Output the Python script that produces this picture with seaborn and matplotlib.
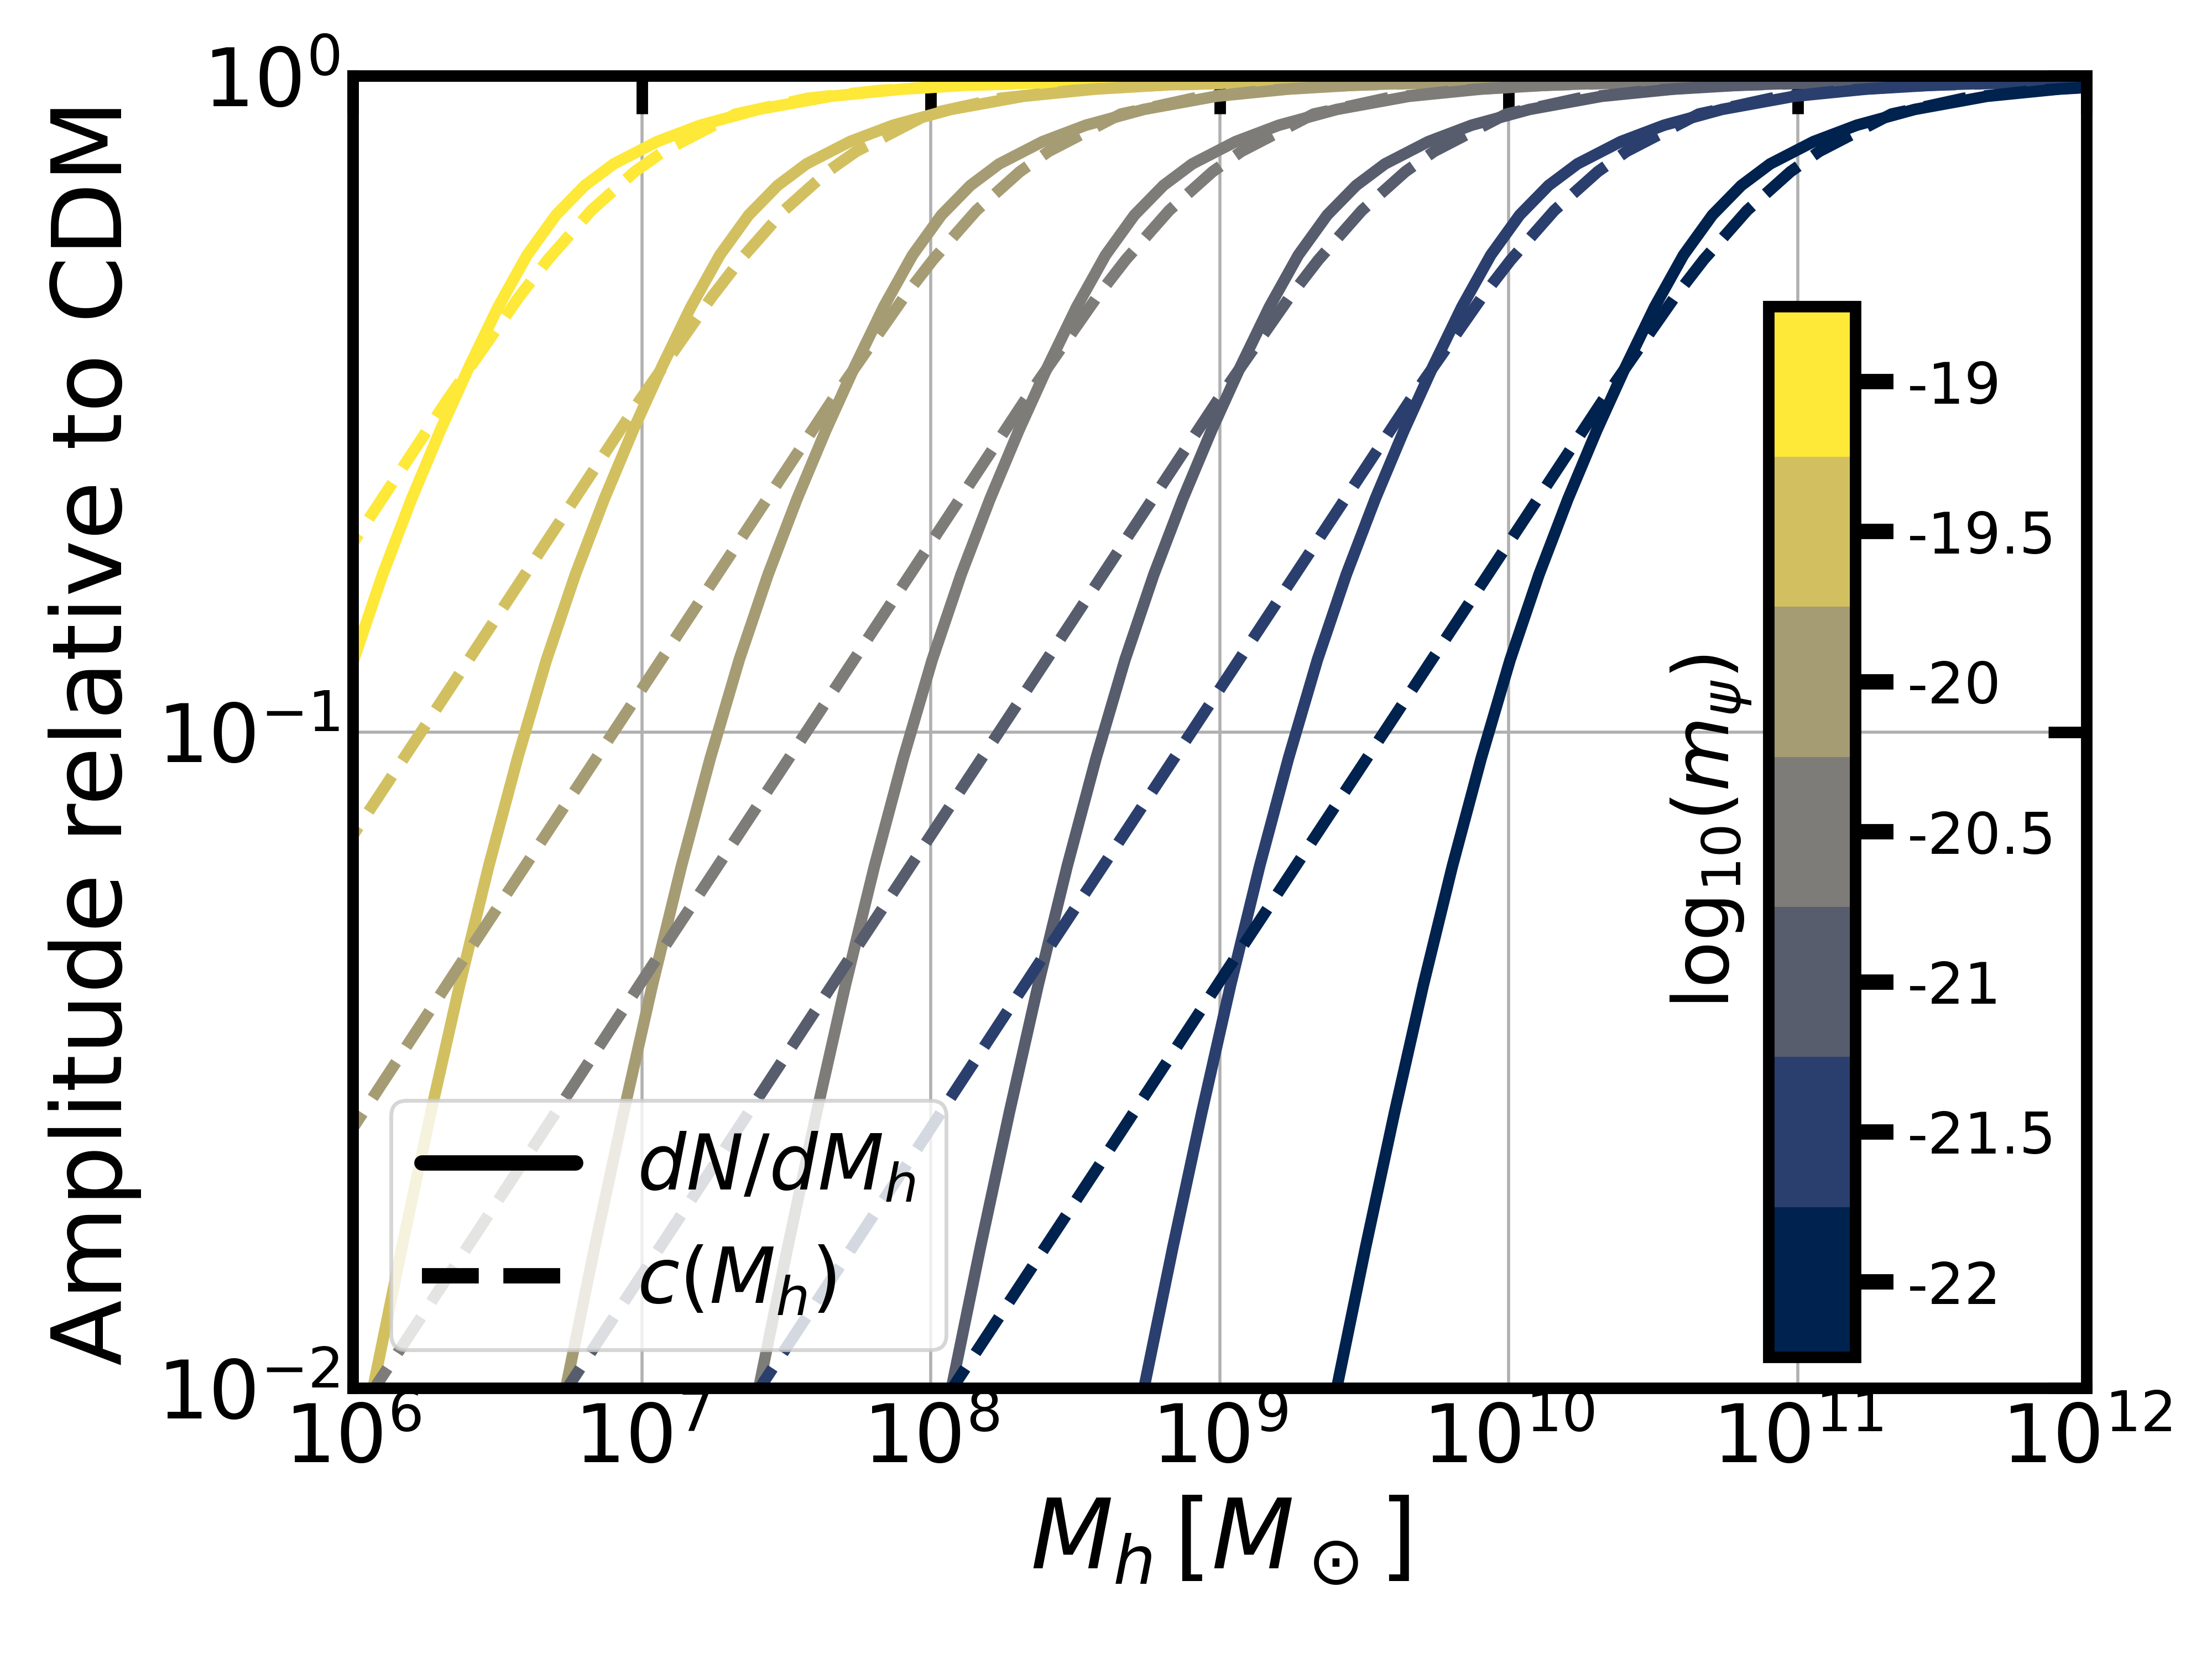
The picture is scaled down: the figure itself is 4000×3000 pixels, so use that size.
import numpy as np
import matplotlib
matplotlib.use("Agg")
import matplotlib.pyplot as plt
from matplotlib.colors import ListedColormap, BoundaryNorm
from matplotlib.cm import ScalarMappable
from matplotlib.lines import Line2D
from matplotlib.ticker import LogLocator, NullLocator
import seaborn as sns

# ---------------- data ----------------
# log10(m_psi) values of the seven models (colour-coded)
log_m_psi = [-19, -19.5, -20, -20.5, -21, -21.5, -22]

# dN/dM_h suppression (solid): amplitude levels and, per model, the
# log10(M_h) at which each curve passes that level
amp_solid = [0.0060, 0.0100, 0.0164, 0.0263, 0.0412, 0.0624, 0.0912, 0.1288,
             0.1738, 0.2265, 0.2884, 0.3606, 0.4446, 0.5333, 0.6138, 0.6808,
             0.7345, 0.7943, 0.8414, 0.8892, 0.9311, 0.9550, 0.9694, 0.9772,
             0.9886, 0.9943, 0.9982, 0.9995]

logM_solid_m19_0 = [5.303, 5.403, 5.503, 5.603, 5.703, 5.803, 5.903, 6.003, 6.103, 6.203,
                    6.303, 6.403, 6.503, 6.603, 6.703, 6.803, 6.903, 7.053, 7.203, 7.403,
                    7.653, 7.903, 8.153, 8.403, 8.903, 9.403, 10.403, 12.003]
logM_solid_m19_5 = [5.970, 6.070, 6.170, 6.270, 6.370, 6.470, 6.570, 6.670, 6.770, 6.870,
                    6.970, 7.070, 7.170, 7.270, 7.370, 7.470, 7.570, 7.720, 7.870, 8.070,
                    8.320, 8.570, 8.820, 9.070, 9.570, 10.070, 11.070, 12.670]
logM_solid_m20_0 = [6.637, 6.737, 6.837, 6.937, 7.037, 7.137, 7.237, 7.337, 7.437, 7.537,
                    7.637, 7.737, 7.837, 7.937, 8.037, 8.137, 8.237, 8.387, 8.537, 8.737,
                    8.987, 9.237, 9.487, 9.737, 10.237, 10.737, 11.737, 13.337]
logM_solid_m20_5 = [7.305, 7.405, 7.505, 7.605, 7.705, 7.805, 7.905, 8.005, 8.105, 8.205,
                    8.305, 8.405, 8.505, 8.605, 8.705, 8.805, 8.905, 9.055, 9.205, 9.405,
                    9.655, 9.905, 10.155, 10.405, 10.905, 11.405, 12.405]
logM_solid_m21_0 = [7.972, 8.072, 8.172, 8.272, 8.372, 8.472, 8.572, 8.672, 8.772, 8.872,
                    8.972, 9.072, 9.172, 9.272, 9.372, 9.472, 9.572, 9.722, 9.872, 10.072,
                    10.322, 10.572, 10.822, 11.072, 11.572, 12.072]
logM_solid_m21_5 = [8.638, 8.738, 8.838, 8.938, 9.038, 9.138, 9.238, 9.338, 9.438, 9.538,
                    9.638, 9.738, 9.838, 9.938, 10.038, 10.138, 10.238, 10.388, 10.538, 10.738,
                    10.988, 11.238, 11.488, 11.738, 12.238]
logM_solid_m22_0 = [9.305, 9.405, 9.505, 9.605, 9.705, 9.805, 9.905, 10.005, 10.105, 10.205,
                    10.305, 10.405, 10.505, 10.605, 10.705, 10.805, 10.905, 11.055, 11.205, 11.405,
                    11.655, 11.905, 12.155]

# c(M_h) suppression (dashed)
amp_dashed = [0.00462, 0.0100, 0.0216, 0.0468, 0.1009, 0.2178, 0.3199, 0.3981,
              0.4603, 0.5248, 0.6237, 0.7145, 0.7674, 0.8750, 0.9247, 0.9506,
              0.9661, 0.9817, 0.9886, 0.9954, 0.9977, 0.9988]

logM_dashed_m19_0 = [3.575, 4.075, 4.575, 5.075, 5.575, 6.075, 6.325, 6.475, 6.575, 6.675,
                     6.825, 6.975, 7.075, 7.325, 7.575, 7.825, 8.075, 8.575, 9.075, 10.075,
                     11.075, 12.075]
logM_dashed_m19_5 = [4.242, 4.742, 5.242, 5.742, 6.242, 6.742, 6.992, 7.142, 7.242, 7.342,
                     7.492, 7.642, 7.742, 7.992, 8.242, 8.492, 8.742, 9.242, 9.742, 10.742,
                     11.742, 12.742]
logM_dashed_m20_0 = [4.908, 5.408, 5.908, 6.408, 6.908, 7.408, 7.658, 7.808, 7.908, 8.008,
                     8.158, 8.308, 8.408, 8.658, 8.908, 9.158, 9.408, 9.908, 10.408, 11.408,
                     12.408]
logM_dashed_m20_5 = [5.575, 6.075, 6.575, 7.075, 7.575, 8.075, 8.325, 8.475, 8.575, 8.675,
                     8.825, 8.975, 9.075, 9.325, 9.575, 9.825, 10.075, 10.575, 11.075, 12.075]
logM_dashed_m21_0 = [6.242, 6.742, 7.242, 7.742, 8.242, 8.742, 8.992, 9.142, 9.242, 9.342,
                     9.492, 9.642, 9.742, 9.992, 10.242, 10.492, 10.742, 11.242, 11.742, 12.742]
logM_dashed_m21_5 = [6.908, 7.408, 7.908, 8.408, 8.908, 9.408, 9.658, 9.808, 9.908, 10.008,
                     10.158, 10.308, 10.408, 10.658, 10.908, 11.158, 11.408, 11.908, 12.408]
logM_dashed_m22_0 = [7.575, 8.075, 8.575, 9.075, 9.575, 10.075, 10.325, 10.475, 10.575, 10.675,
                     10.825, 10.975, 11.075, 11.325, 11.575, 11.825, 12.075]

cbar_ticks = [-22, -21.5, -21, -20.5, -20, -19.5, -19]
cbar_tick_labels = ["-22", "-21.5", "-21", "-20.5", "-20", "-19.5", "-19"]
legend_labels = [r"$dN/dM_h$", r"$c(M_h)$"]

solid_curves = [logM_solid_m19_0, logM_solid_m19_5, logM_solid_m20_0, logM_solid_m20_5,
                logM_solid_m21_0, logM_solid_m21_5, logM_solid_m22_0]
dashed_curves = [logM_dashed_m19_0, logM_dashed_m19_5, logM_dashed_m20_0, logM_dashed_m20_5,
                 logM_dashed_m21_0, logM_dashed_m21_5, logM_dashed_m22_0]

# ---------------- style ----------------
sns.set_style("white")
plt.rcParams.update({
    "font.family": ["DejaVu Sans"],
    "mathtext.fontset": "dejavusans",
    "text.color": "black",
    "axes.labelcolor": "black",
    "xtick.color": "black",
    "ytick.color": "black",
    "axes.edgecolor": "black",
})

cmap7 = matplotlib.colormaps["cividis"].resampled(7)
colors_low_to_high = [cmap7(i) for i in range(7)]          # -22 ... -19
color_of = {v: colors_low_to_high[i] for i, v in enumerate(sorted(log_m_psi))}

fig = plt.figure(figsize=(8, 6), dpi=500)
ax = fig.add_axes([0.1595, 0.1633, 0.7838, 0.7909])
ax.set_xscale("log")
ax.set_yscale("log")

for mval, xs, xd in zip(log_m_psi, solid_curves, dashed_curves):
    c = color_of[mval]
    sns.lineplot(x=10.0 ** np.array(xs), y=amp_solid[:len(xs)], color=c, lw=3,
                 ax=ax, estimator=None, sort=False)
    sns.lineplot(x=10.0 ** np.array(xd), y=amp_dashed[:len(xd)], color=c, lw=3,
                 linestyle="--", ax=ax, estimator=None, sort=False)

ax.set_xlim(1e6, 1e12)
ax.set_ylim(1e-2, 1e0)
ax.xaxis.set_major_locator(LogLocator(base=10, numticks=20))
ax.yaxis.set_major_locator(LogLocator(base=10, numticks=20))
ax.xaxis.set_minor_locator(NullLocator())
ax.yaxis.set_minor_locator(NullLocator())
ax.tick_params(axis="both", which="major", direction="in", length=10, width=3,
               top=True, right=True, labelsize=21, pad=3.5)
ax.grid(True, which="major", color="#b0b0b0", linewidth=0.8)
for s in ax.spines.values():
    s.set_linewidth(3)
    s.set_color("black")

ax.set_xlabel(r"$M_h\,[M_\odot]$", fontsize=25)
ax.set_ylabel("Amplitude relative to CDM", fontsize=25)

handles = [Line2D([], [], color="black", lw=4, ls="-"),
           Line2D([], [], color="black", lw=4, ls="--")]
ax.legend(handles, legend_labels, loc="lower left", fontsize=20, frameon=True,
          framealpha=0.8, edgecolor="0.8", fancybox=True)

# colorbar inset
cax = fig.add_axes([0.7996, 0.182, 0.0391, 0.6332])
bounds = [-22.25, -21.75, -21.25, -20.75, -20.25, -19.75, -19.25, -18.75]
norm = BoundaryNorm(bounds, 7)
sm = ScalarMappable(norm=norm, cmap=ListedColormap(colors_low_to_high))
sm.set_array([])
cbar = fig.colorbar(sm, cax=cax, ticks=cbar_ticks)
cbar.set_ticklabels(cbar_tick_labels)
cbar.outline.set_linewidth(3)
cbar.outline.set_edgecolor("black")
cbar.ax.minorticks_off()
cbar.ax.tick_params(direction="out", length=10, width=4, labelsize=15, colors="black")
cbar.set_label(r"log$_{10}$($m_{\psi}$)", fontsize=20)
cbar.ax.yaxis.set_label_position("left")

fig.savefig("out.png", dpi=500)
